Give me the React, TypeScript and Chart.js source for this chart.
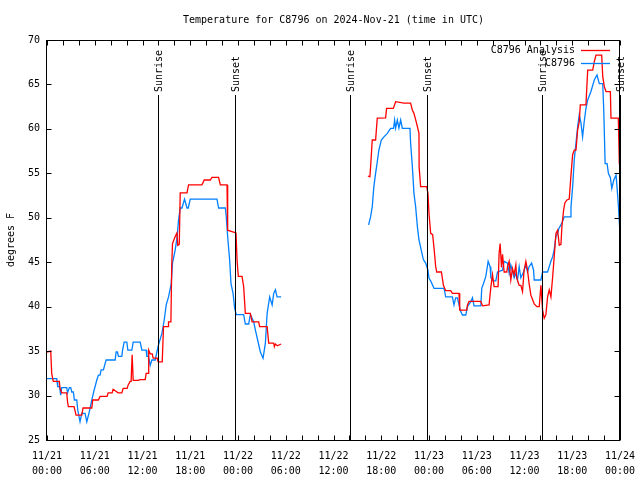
import { useEffect, useRef } from 'react';
import { Chart, registerables } from 'chart.js';

Chart.register(...registerables);

const TITLE = 'Temperature for C8796 on 2024-Nov-21 (time in UTC)';
const Y_LABEL = 'degrees F';
const FONT = '"DejaVu Sans Mono", "Liberation Mono", monospace';

// x axis: hours since 2024-11-21 00:00 UTC
const X_MIN = 0;
const X_MAX = 72;
const xTickHours = [0, 6, 12, 18, 24, 30, 36, 42, 48, 54, 60, 66, 72];
const xTickDates = ['11/21', '11/21', '11/21', '11/21', '11/22', '11/22', '11/22', '11/22', '11/23', '11/23', '11/23', '11/23', '11/24'];
const xTickTimes = ['00:00', '06:00', '12:00', '18:00', '00:00', '06:00', '12:00', '18:00', '00:00', '06:00', '12:00', '18:00', '00:00'];
const xMinorTickHours = [0, 2, 4, 6, 8, 10, 12, 14, 16, 18, 20, 22, 24, 26, 28, 30, 32, 34, 36, 38, 40, 42, 44, 46, 48, 50, 52, 54, 56, 58, 60, 62, 64, 66, 68, 70, 72];
const yTicks = [25, 30, 35, 40, 45, 50, 55, 60, 65, 70];

const sunriseHours = [13.94, 38.07, 62.2];
const sunsetHours = [23.59, 47.8, 71.95];

const analysisLabel = 'C8796 Analysis';
const analysisHours = [
  0.0, 0.47, 0.59, 0.79, 1.55, 1.64, 1.85, 2.48, 2.58, 2.68, 3.4, 3.65, 4.37, 4.53, 5.63, 5.75, 6.46, 6.67, 7.55, 7.68,
  8.18, 8.31, 8.94, 9.4, 9.57, 10.07, 10.2, 10.45, 10.57, 10.7, 10.83, 11.46, 11.71, 12.34, 12.46, 12.75, 12.78, 12.97, 13.22, 13.34,
  13.85, 13.97, 14.48, 14.64, 15.23, 15.27, 15.57, 15.67, 15.77, 16.11, 16.33, 16.43, 16.62, 16.74, 17.59, 17.79, 19.47, 19.76, 20.52, 20.73,
  21.56, 21.78, 22.62, 22.7, 23.75, 23.88, 24.04, 24.51, 24.71, 24.92, 25.55, 25.77, 26.6, 26.72, 27.66, 27.86, 28.49, 28.57, 28.7, 28.95,
  29.42,
  35,
  40.32, 40.57, 40.66, 40.79, 40.87, 41.29, 41.5, 42.55, 42.67, 43.52, 43.81, 44.85, 45.69, 45.91, 46.11, 46.45, 46.74, 46.76, 46.95, 47.71,
  47.87, 48.0, 48.21, 48.46, 48.63, 48.84, 48.97, 49.56, 49.81, 50.1, 50.73, 50.94, 51.77, 51.86, 52.74, 52.83, 53.03, 54.51, 54.72, 55.55,
  55.77, 55.98, 56.18, 56.68, 56.81, 56.94, 57.11, 57.24, 57.44, 57.78, 57.87, 58.07, 58.28, 58.49, 58.7, 58.91, 59.03, 59.33, 59.54, 59.75,
  59.95, 60.17, 60.38, 60.58, 60.8, 61.01, 61.22, 61.56, 61.85, 62.06, 62.27, 62.48, 62.69, 62.9, 63.11, 63.32, 63.53, 63.73, 63.95, 64.16,
  64.37, 64.58, 64.7, 64.92, 65.08, 65.33, 65.62, 65.84, 66.05, 66.25, 66.47, 66.68, 66.88, 67.01, 67.72, 67.94, 68.57, 68.77, 68.98, 69.7,
  69.83, 70.03, 70.24, 70.79, 70.87, 71.79, 71.92,
];
const analysisTemps = [
  34.9, 35.0, 32.5, 31.6, 31.6, 30.8, 30.3, 30.3, 29.3, 28.75, 28.75, 27.8, 27.8, 28.6, 28.6, 29.5, 29.5, 29.9, 29.9, 30.3,
  30.3, 30.7, 30.3, 30.3, 30.8, 30.8, 31.2, 31.6, 31.6, 34.6, 31.7, 31.7, 31.8, 31.8, 32.5, 32.5, 35.1, 34.7, 34.7, 34.2,
  34.2, 33.8, 33.8, 37.75, 37.75, 38.3, 38.3, 44.5, 47.1, 47.9, 48.3, 46.9, 47.0, 52.8, 52.8, 53.7, 53.7, 54.25, 54.25, 54.55,
  54.55, 53.7, 53.7, 48.6, 48.3, 45.25, 43.4, 43.4, 42.25, 39.25, 39.25, 38.3, 38.3, 37.75, 37.75, 35.9, 35.9, 35.5, 35.8, 35.6,
  35.8,
  null,
  54.7, 54.6, 55.7, 57.6, 58.75, 58.75, 61.2, 61.25, 62.3, 62.3, 63.06, 62.9, 62.9, 62.1, 61.75, 60.6, 59.5, 55.7, 53.5, 53.5,
  52.75, 50.5, 48.25, 48.1, 46.6, 44.5, 43.9, 43.9, 42.4, 41.8, 41.8, 41.5, 41.5, 39.6, 39.6, 40.2, 40.6, 40.6, 40.1, 40.2,
  42.2, 43.6, 42.25, 42.25, 46.0, 47.1, 44.4, 45.9, 43.9, 43.9, 44.5, 45.1, 43.0, 44.3, 43.6, 44.7, 43.2, 42.4, 42.4, 41.7,
  44.1, 45.1, 44.1, 42.6, 41.3, 40.8, 40.3, 40.0, 40.0, 42.4, 39.6, 38.7, 39.1, 41.1, 41.9, 41.1, 43.25, 45.6, 48.25, 48.6,
  46.9, 47.0, 49.0, 50.9, 51.7, 52.0, 52.1, 54.8, 57.1, 57.6, 57.6, 59.9, 60.8, 62.7, 62.7, 66.6, 66.6, 67.56, 68.3, 68.3,
  65.9, 64.75, 64.2, 64.2, 61.2, 61.2, 56.0,
];

const stationLabel = 'C8796';
const stationHours = [
  0.0, 1.22, 1.26, 1.35, 1.55, 1.64, 1.72, 1.85, 2.48, 2.58, 2.81, 2.98, 3.11, 3.31, 3.44, 3.74, 3.86, 4.15, 4.37, 4.78,
  5.0, 5.32, 5.63, 5.92, 6.26, 6.46, 6.67, 6.8, 7.09, 7.3, 7.43, 8.56, 8.69, 8.85, 8.98, 9.4, 9.5, 9.69, 10.03, 10.16,
  10.66, 10.83, 11.71, 11.92, 12.46, 12.55, 12.75, 12.97, 13.18, 13.6, 13.81, 14.01, 14.44, 14.73, 14.98, 15.27, 15.61, 15.77, 16.11, 16.33,
  16.53, 16.74, 16.96, 17.28, 17.59, 17.75, 18.0, 21.36, 21.56, 22.41, 22.53, 22.7, 22.95, 23.12, 23.38, 23.58, 23.79, 24.71, 24.92, 25.34,
  25.55, 25.97, 26.18, 26.47, 26.81, 27.15, 27.44, 27.66, 27.98, 28.29, 28.49, 28.7, 28.91, 29.42,
  35,
  40.41, 40.66, 40.87, 41.07, 41.29, 41.5, 41.7, 42.01, 42.34, 42.76, 43.18, 43.55, 43.68, 43.81, 44.02, 44.22, 44.44, 44.65, 45.61, 45.69,
  45.91, 46.11, 46.32, 46.54, 46.74, 47.04, 47.29, 47.58, 47.87, 48.0, 48.21, 48.63, 49.89, 50.1, 50.94, 51.14, 51.35, 51.57, 51.77, 51.99,
  52.2, 52.62, 52.83, 53.25, 53.46, 53.66, 54.51, 54.63, 54.85, 55.14, 55.43, 55.68, 55.77, 56.1, 56.39, 56.61, 57.24, 57.44, 57.87, 58.07,
  58.28, 58.7, 58.91, 59.12, 59.33, 59.54, 59.88, 60.17, 60.38, 60.58, 60.89, 61.14, 61.22, 62.06, 62.27, 62.9, 63.11, 63.32, 63.53, 63.73,
  63.95, 64.16, 64.32, 64.58, 64.79, 64.99, 65.74, 65.84, 66.05, 66.25, 66.47, 66.68, 66.88, 67.09, 67.3, 67.5, 67.72, 67.94, 68.35, 68.77,
  69.11, 69.4, 69.83, 69.96, 70.13, 70.38, 70.54, 70.79, 70.97, 71.22, 71.51, 71.78, 71.88, 72.0,
];
const stationTemps = [
  31.9, 31.9, 31.6, 31.0, 31.0, 30.6, 30.05, 30.9, 30.9, 30.3, 30.9, 30.9, 30.4, 30.4, 29.5, 29.5, 28.4, 27.05, 28.0, 28.0,
  27.05, 28.2, 29.5, 30.6, 31.75, 32.3, 32.3, 32.9, 32.9, 33.6, 34.0, 34.0, 34.9, 34.9, 34.4, 34.4, 35.1, 36.0, 36.0, 35.1,
  35.1, 36.0, 36.0, 35.1, 35.1, 34.4, 34.4, 33.4, 34.0, 34.0, 34.9, 35.7, 37.0, 38.5, 40.2, 41.1, 42.6, 44.9, 46.4, 47.7,
  49.75, 51.1, 51.1, 52.1, 51.1, 51.1, 52.1, 52.1, 51.1, 51.1, 50.1, 47.9, 45.25, 42.6, 41.5, 39.8, 39.1, 39.1, 38.05, 38.05,
  39.1, 38.3, 37.4, 36.25, 34.9, 34.2, 35.9, 39.25, 41.1, 40.2, 41.5, 41.9, 41.1, 41.1,
  null,
  49.2, 50.1, 51.25, 53.5, 55.0, 56.3, 57.6, 58.75, 59.1, 59.5, 60.06, 60.06, 61.0, 60.1, 61.0, 60.1, 61.0, 60.06, 60.06, 58.4,
  55.75, 52.75, 51.25, 49.0, 47.5, 46.3, 45.3, 44.9, 44.1, 43.2, 42.9, 42.06, 42.06, 41.1, 41.1, 40.2, 41.0, 41.0, 40.2, 39.45,
  39.06, 39.06, 40.0, 40.56, 41.0, 40.1, 40.1, 42.06, 42.6, 43.4, 45.1, 44.5, 43.25, 42.9, 42.9, 43.9, 44.1, 45.1, 44.9, 43.75,
  44.7, 43.25, 43.75, 43.0, 44.5, 43.25, 43.9, 44.7, 43.9, 44.5, 44.9, 44.1, 43.0, 43.0, 43.9, 43.9, 44.5, 45.1, 45.6, 46.4,
  47.9, 48.25, 48.8, 49.2, 49.6, 50.1, 50.1, 51.2, 53.5, 56.5, 58.4, 60.25, 61.56, 60.7, 59.1, 60.8, 62.3, 63.25, 64.2, 65.5,
  66.06, 65.1, 65.1, 62.1, 56.1, 56.1, 55.0, 54.5, 53.3, 54.25, 54.8, 51.6, 50.0, 48.25,
];

const ANALYSIS_COLOR = '#ff0000';
const STATION_COLOR = '#0080ff';

const toPoints = (xs: number[], ys: (number | null)[]) => xs.map((x, i) => ({ x, y: ys[i] }));

const decorPlugin = {
  id: 'gnuplotDecor',
  afterDatasetsDraw(chart: any) {
    const { ctx, chartArea: a, scales } = chart;
    const xs = scales.x;
    const ys = scales.y;
    ctx.save();
    ctx.strokeStyle = '#000';
    ctx.fillStyle = '#000';
    ctx.lineWidth = 1;
    ctx.font = `10px ${FONT}`;

    // sunrise / sunset markers
    const marks: [number, string][] = [
      ...sunriseHours.map((h) => [h, 'Sunrise'] as [number, string]),
      ...sunsetHours.map((h) => [h, 'Sunset'] as [number, string]),
    ];
    marks.forEach(([h, label]) => {
      const px = Math.round(xs.getPixelForValue(h)) + 0.5;
      ctx.beginPath();
      ctx.moveTo(px, a.top + 55);
      ctx.lineTo(px, a.bottom);
      ctx.stroke();
      ctx.save();
      ctx.translate(px + 0.5, a.top + 52);
      ctx.rotate(-Math.PI / 2);
      ctx.textAlign = 'left';
      ctx.textBaseline = 'middle';
      ctx.fillText(label, 0, 0);
      ctx.restore();
    });

    // border
    const L = Math.round(a.left) - 0.5;
    const R = Math.round(a.right) - 0.5;
    const T = Math.round(a.top) + 0.5;
    const B = Math.round(a.bottom) + 0.5;
    ctx.strokeRect(L, T, R - L, B - T);

    // inward ticks
    const tl = 5;
    ctx.beginPath();
    xMinorTickHours.forEach((h) => {
      const px = Math.round(xs.getPixelForValue(h)) + 0.5;
      ctx.moveTo(px, B);
      ctx.lineTo(px, B - tl);
      ctx.moveTo(px, T);
      ctx.lineTo(px, T + tl);
    });
    yTicks.forEach((v) => {
      const py = Math.round(ys.getPixelForValue(v)) + 0.5;
      ctx.moveTo(L, py);
      ctx.lineTo(L + tl, py);
      ctx.moveTo(R, py);
      ctx.lineTo(R - tl, py);
    });
    ctx.stroke();

    // title
    ctx.textAlign = 'center';
    ctx.textBaseline = 'middle';
    ctx.fillText(TITLE, (a.left + a.right) / 2, 20);

    // y label
    ctx.save();
    ctx.translate(11, (a.top + a.bottom) / 2);
    ctx.rotate(-Math.PI / 2);
    ctx.fillText(Y_LABEL, 0, 0);
    ctx.restore();

    // legend
    chart.data.datasets.forEach((ds: any, i: number) => {
      const ly = 50 + i * 13;
      ctx.textAlign = 'right';
      ctx.fillStyle = '#000';
      ctx.fillText(ds.label, 575, ly);
      ctx.strokeStyle = ds.borderColor;
      ctx.lineWidth = 1.3;
      ctx.beginPath();
      ctx.moveTo(581, ly + 0.5);
      ctx.lineTo(610, ly + 0.5);
      ctx.stroke();
    });
    ctx.restore();
  },
};

export default function App() {
  const ref = useRef<HTMLCanvasElement | null>(null);

  useEffect(() => {
    if (!ref.current) return;
    const tickFont = { family: FONT, size: 10, lineHeight: 1.5 };
    const chart = new Chart(ref.current, {
      type: 'line',
      data: {
        datasets: [
          {
            label: analysisLabel,
            data: toPoints(analysisHours, analysisTemps),
            borderColor: ANALYSIS_COLOR,
            borderWidth: 1.3,
            pointRadius: 0,
            spanGaps: false,
            tension: 0,
          },
          {
            label: stationLabel,
            data: toPoints(stationHours, stationTemps),
            borderColor: STATION_COLOR,
            borderWidth: 1.3,
            pointRadius: 0,
            spanGaps: false,
            tension: 0,
          },
        ],
      },
      options: {
        animation: false,
        responsive: false,
        events: [],
        layout: { padding: { top: 40, right: 20, left: 0, bottom: 0 } },
        plugins: {
          legend: { display: false },
          title: { display: false },
          tooltip: { enabled: false },
        },
        scales: {
          x: {
            type: 'linear',
            min: X_MIN,
            max: X_MAX,
            afterBuildTicks: (s: any) => {
              s.ticks = xTickHours.map((v) => ({ value: v }));
            },
            afterFit: (s: any) => {
              s.height = 40;
              s.paddingLeft = 0;
              s.paddingRight = 0;
            },
            grid: { display: false, drawTicks: false },
            border: { display: false },
            ticks: {
              autoSkip: false,
              maxRotation: 0,
              padding: 9,
              color: '#000',
              font: tickFont,
              callback: (v: any) => {
                const i = xTickHours.indexOf(Number(v));
                return i >= 0 ? [xTickDates[i], xTickTimes[i]] : '';
              },
            },
          },
          y: {
            type: 'linear',
            min: 25,
            max: 70,
            afterBuildTicks: (s: any) => {
              s.ticks = yTicks.map((v) => ({ value: v }));
            },
            afterFit: (s: any) => {
              s.width = 47;
            },
            grid: { display: false, drawTicks: false },
            border: { display: false },
            ticks: {
              padding: 7,
              color: '#000',
              font: { family: FONT, size: 10 },
            },
          },
        },
      },
      plugins: [decorPlugin],
    });
    return () => chart.destroy();
  }, []);

  return (
    <div style={{ position: 'absolute', left: 0, top: 0, width: 640, height: 480, background: '#fff' }}>
      <canvas ref={ref} width={640} height={480} style={{ width: 640, height: 480 }} />
    </div>
  );
}
